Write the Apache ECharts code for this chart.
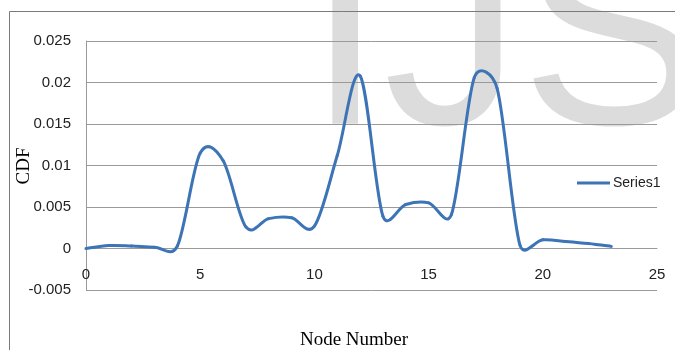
<!DOCTYPE html>
<html>
<head>
<meta charset="utf-8">
<script src="https://cdn.jsdelivr.net/npm/echarts@6/dist/echarts.min.js"></script>
<style>
  html, body { margin: 0; padding: 0; background: #fff; }
  #chart { width: 675px; height: 350px; }
</style>
</head>
<body>
<div id="chart"></div>
<script>
// Node index along the path
const nodes = [0, 1, 2, 3, 4, 5, 6, 7, 8, 9, 10, 11, 12, 13, 14, 15, 16, 17, 18, 19, 20, 21, 22, 23];
// CDF value at each node
const cdf = [0, 0.00036, 0.0003, 0.00016, 0.0003, 0.0115, 0.0106, 0.0026, 0.0036, 0.0037, 0.0027,
             0.0112, 0.0208, 0.0039, 0.0053, 0.0055, 0.0041, 0.0206, 0.0193, 0.0004, 0.00105,
             0.00085, 0.0006, 0.00025];
const seriesName = 'Series1';
const xTicks = { min: 0, max: 25, interval: 5 };
const yTicks = { min: -0.005, max: 0.025, interval: 0.005 };

const chart = echarts.init(document.getElementById('chart'), null, { renderer: 'canvas' });

const lineColor = '#3d74b6';
const gridColor = '#9a9a9a';
const labelFont = '"Liberation Sans", Arial, sans-serif';
const serifFont = '"Liberation Serif", "Times New Roman", serif';

// plot area geometry
const gridTop = 41, gridBottom = 60, chartH = 350;
const plotH = chartH - gridTop - gridBottom;
// the x axis sits on the zero line
const zeroOffset = -plotH * (0 - yTicks.min) / (yTicks.max - yTicks.min);

const points = nodes.map(function (n, i) { return [n, cdf[i]]; });

// Control arm for a point: Catmull-Rom tangent (1/6 of prev->next), shortened
// so it never exceeds a share of the segment it bends into.
const ARM_LIMIT = 0.6;
function arm(prev, next, cur, toward) {
  let dx = (next[0] - prev[0]) / 6;
  let dy = (next[1] - prev[1]) / 6;
  const len = Math.hypot(dx, dy);
  const seg = Math.hypot(toward[0] - cur[0], toward[1] - cur[1]);
  const maxLen = ARM_LIMIT * seg;
  if (len > maxLen && len > 0) {
    dx *= maxLen / len;
    dy *= maxLen / len;
  }
  return [dx, dy];
}

// Smoothed line: each item draws the cubic Bezier segment from point i to i+1.
function renderSegment(params, api) {
  const i = params.dataIndex;
  const last = points.length - 1;
  if (i >= last) return null;
  const p0 = api.coord(points[Math.max(i - 1, 0)]);
  const p1 = api.coord(points[i]);
  const p2 = api.coord(points[i + 1]);
  const p3 = api.coord(points[Math.min(i + 2, last)]);
  const a1 = arm(p0, p2, p1, p2);
  const a2 = arm(p1, p3, p2, p1);
  return {
    type: 'bezierCurve',
    shape: {
      x1: p1[0], y1: p1[1],
      cpx1: p1[0] + a1[0], cpy1: p1[1] + a1[1],
      cpx2: p2[0] - a2[0], cpy2: p2[1] - a2[1],
      x2: p2[0], y2: p2[1]
    },
    style: { stroke: lineColor, lineWidth: 3, fill: null, lineCap: 'round' }
  };
}

chart.setOption({
  animation: false,
  backgroundColor: '#ffffff',
  grid: { left: 86, right: 18, top: gridTop, bottom: gridBottom, containLabel: false, outerBoundsMode: 'none' },
  graphic: [
    {
      type: 'text',
      z: -10,
      silent: true,
      style: {
        text: 'IJS',
        x: 307,
        y: 48,
        font: 'normal 275px "Liberation Sans", Arial, sans-serif',
        fill: '#dcdcdc',
        textVerticalAlign: 'middle'
      }
    },
    {
      type: 'rect',
      z: 5,
      silent: true,
      shape: { x: 9.5, y: 11.5, width: 700, height: 400 },
      style: { fill: 'none', stroke: '#7a7a7a', lineWidth: 1 }
    },
    {
      type: 'text',
      silent: true,
      x: 24,
      y: 166,
      rotation: Math.PI / 2,
      style: {
        text: 'CDF',
        x: 0,
        y: 0,
        font: 'normal 19px ' + serifFont,
        fill: '#000',
        textAlign: 'center',
        textVerticalAlign: 'middle'
      }
    },
    {
      type: 'text',
      silent: true,
      style: {
        text: 'Node Number',
        x: 354,
        y: 340,
        font: 'normal 19px ' + serifFont,
        fill: '#000',
        textAlign: 'center',
        textVerticalAlign: 'middle'
      }
    }
  ],
  legend: {
    data: [seriesName],
    left: 577,
    top: 176,
    padding: 0,
    icon: 'rect',
    itemWidth: 33,
    itemHeight: 3,
    itemGap: 4,
    textStyle: { fontFamily: labelFont, fontSize: 14, color: '#222', padding: [0, 0, 0, -2] }
  },
  xAxis: {
    type: 'value',
    min: xTicks.min,
    max: xTicks.max,
    interval: xTicks.interval,
    position: 'bottom',
    offset: zeroOffset,
    axisLine: { show: true, onZero: false, lineStyle: { color: gridColor, width: 1 } },
    axisTick: { show: false },
    splitLine: { show: false },
    axisLabel: { margin: 19, fontFamily: labelFont, fontSize: 15, color: '#222' }
  },
  yAxis: {
    type: 'value',
    min: yTicks.min,
    max: yTicks.max,
    interval: yTicks.interval,
    axisLine: { show: true, lineStyle: { color: gridColor, width: 1 } },
    axisTick: { show: false },
    splitLine: { show: true, lineStyle: { color: gridColor, width: 1 } },
    axisLabel: {
      margin: 15,
      fontFamily: labelFont,
      fontSize: 15,
      color: '#222',
      formatter: function (v) { return String(Math.round(v * 1000) / 1000); }
    }
  },
  series: [{
    name: seriesName,
    type: 'custom',
    data: points,
    encode: { x: 0, y: 1 },
    renderItem: renderSegment,
    itemStyle: { color: lineColor },
    z: 3
  }]
});
</script>
</body>
</html>
